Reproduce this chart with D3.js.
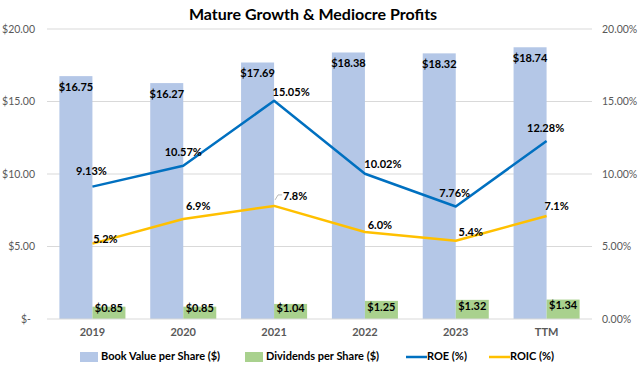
<!DOCTYPE html>
<html><head><meta charset="utf-8">
<script src="https://cdn.jsdelivr.net/npm/d3@7"></script>
<style>
html,body{margin:0;padding:0;background:#fff;}
svg{display:block;font-family:Lato,"Open Sans",sans-serif;}
</style></head>
<body><svg id="chart" width="640" height="366"></svg>
<script>
const categories = ["2019","2020","2021","2022","2023","TTM"];
const bookValue = [16.75,16.27,17.69,18.38,18.32,18.74];
const dividends = [0.85,0.85,1.04,1.25,1.32,1.34];
const roe = [9.13,10.57,15.05,10.02,7.76,12.28];
const roic = [5.2,6.9,7.8,6.0,5.4,7.1];
const leftTicks = [0,5,10,15,20];
const rightTicks = [0,5,10,15,20];
const seriesNames = ["Book Value per Share ($)","Dividends per Share ($)","ROE (%)","ROIC (%)"];

// label placement (style, not data)
const roeLabelOffsets = [[-1,-14],[0,-13],[17,-8],[18,-9],[-1,-12],[-1,-12]];
const roicLabelOffsets = [[13,-3],[15,-12],[21,-9],[15,-6],[15,-8],[10,-9]];

const C = {blue:"#b4c7e7", green:"#a9d18e", roe:"#0070c0", roic:"#ffc000", grid:"#d9d9d9", axisText:"#595959"};

const svg = d3.select("#chart");
const pLeft = 47, pRight = 592, pTop = 29, pBottom = 319;

const x = d3.scaleBand().domain(categories).range([pLeft,pRight]).paddingInner(0.273).paddingOuter(0.1365);
const xs = d3.scaleBand().domain(["bv","div"]).range([0,x.bandwidth()]);
const yL = d3.scaleLinear().domain([0,20]).range([pBottom,pTop]);
const yR = d3.scaleLinear().domain([0,20]).range([pBottom,pTop]);

// title
svg.append("text").attr("x",313).attr("y",16).attr("text-anchor","middle")
  .attr("dominant-baseline","middle").attr("font-weight","bold").attr("font-size",16)
  .attr("fill","#000").text("Mature Growth & Mediocre Profits");

// gridlines
svg.append("g").selectAll("line").data(leftTicks.filter(d=>d>0)).join("line")
  .attr("x1",pLeft).attr("x2",pRight).attr("y1",d=>yL(d)).attr("y2",d=>yL(d))
  .attr("stroke",C.grid).attr("stroke-width",1);

// left axis
const axL = d3.axisLeft(yL).tickValues(leftTicks).tickSize(0).tickPadding(12)
  .tickFormat(d=> d===0 ? "$-" : "$"+d3.format(".2f")(d));
const gL = svg.append("g").attr("transform",`translate(${pLeft},0)`).call(axL);
gL.select(".domain").remove();
gL.selectAll("text").attr("font-size",10.5).attr("fill",C.axisText).attr("font-family","Lato,sans-serif")
  .attr("dx",d=>d===0?-4:0);

// right axis
const axR = d3.axisRight(yR).tickValues(rightTicks).tickSize(0).tickPadding(10)
  .tickFormat(d=>d3.format(".2f")(d)+"%");
const gR = svg.append("g").attr("transform",`translate(${pRight},0)`).call(axR);
gR.select(".domain").remove();
gR.selectAll("text").attr("font-size",10.5).attr("fill",C.axisText).attr("font-family","Lato,sans-serif");

// bars
const groups = svg.append("g").selectAll("g").data(categories).join("g")
  .attr("transform",d=>`translate(${x(d)},0)`);
groups.append("rect").attr("x",xs("bv")).attr("width",xs.bandwidth())
  .attr("y",(d,i)=>yL(bookValue[i])).attr("height",(d,i)=>yL(0)-yL(bookValue[i])).attr("fill",C.blue);
groups.append("rect").attr("x",xs("div")).attr("width",xs.bandwidth())
  .attr("y",(d,i)=>yL(dividends[i])).attr("height",(d,i)=>yL(0)-yL(dividends[i])).attr("fill",C.green);

// baseline axis
svg.append("line").attr("x1",pLeft).attr("x2",pRight).attr("y1",yL(0)).attr("y2",yL(0))
  .attr("stroke",C.grid).attr("stroke-width",1);

// x axis labels
const axX = d3.axisBottom(x).tickSize(0).tickPadding(9);
const gX = svg.append("g").attr("transform",`translate(0,${pBottom})`).call(axX);
gX.select(".domain").remove();
gX.selectAll("text").attr("font-size",11).attr("fill",C.axisText).attr("font-weight","bold").attr("font-family","Lato,sans-serif");

// bar labels
groups.append("text").attr("x",xs("bv")+xs.bandwidth()/2).attr("y",(d,i)=>yL(bookValue[i])+12)
  .attr("text-anchor","middle").attr("dominant-baseline","middle").attr("font-weight","bold")
  .attr("font-size",11).attr("fill","#000").text((d,i)=>"$"+d3.format(".2f")(bookValue[i]));
groups.append("text").attr("x",xs("div")+xs.bandwidth()/2).attr("y",(d,i)=>Math.min(yL(dividends[i])+7,309.5))
  .attr("text-anchor","middle").attr("dominant-baseline","middle").attr("font-weight","bold")
  .attr("font-size",11).attr("fill","#000").text((d,i)=>"$"+d3.format(".2f")(dividends[i]));

// lines
const cx = d=>x(d)+x.bandwidth()/2;
const lineGen = d3.line().x((d,i)=>cx(categories[i])).y(d=>yR(d));
svg.append("path").datum(roe).attr("d",lineGen).attr("fill","none").attr("stroke",C.roe)
  .attr("stroke-width",2.5).attr("stroke-linejoin","round");
svg.append("path").datum(roic).attr("d",lineGen).attr("fill","none").attr("stroke",C.roic)
  .attr("stroke-width",2.5).attr("stroke-linejoin","round");

// leader line for 7.8%
{
  const px = cx(categories[2]), py = yR(roic[2]);
  svg.append("path").attr("d",`M${px+1},${py-6} L${px+4},${py-11} L${px+8},${py-11}`)
    .attr("fill","none").attr("stroke","#a6a6a6").attr("stroke-width",0.8);
}

// line labels
svg.append("g").selectAll("text").data(roe).join("text")
  .attr("x",(d,i)=>cx(categories[i])+roeLabelOffsets[i][0])
  .attr("y",(d,i)=>yR(d)+roeLabelOffsets[i][1])
  .attr("text-anchor","middle").attr("dominant-baseline","middle").attr("font-weight","bold")
  .attr("font-size",11).attr("fill","#000").text(d=>d3.format(".2f")(d)+"%");
svg.append("g").selectAll("text").data(roic).join("text")
  .attr("x",(d,i)=>cx(categories[i])+roicLabelOffsets[i][0])
  .attr("y",(d,i)=>yR(d)+roicLabelOffsets[i][1])
  .attr("text-anchor","middle").attr("dominant-baseline","middle").attr("font-weight","bold")
  .attr("font-size",11).attr("fill","#000").text(d=>d3.format(".1f")(d)+"%");

// legend
const legend = svg.append("g").attr("transform","translate(0,357)");
const legendItems = [
  {name:seriesNames[0], type:"rect", color:C.blue, x:80},
  {name:seriesNames[1], type:"rect", color:C.green, x:245},
  {name:seriesNames[2], type:"line", color:C.roe, x:406},
  {name:seriesNames[3], type:"line", color:C.roic, x:489}
];
legendItems.forEach(it=>{
  if(it.type==="rect"){
    legend.append("rect").attr("x",it.x).attr("y",-5).attr("width",18).attr("height",10).attr("fill",it.color);
  } else {
    legend.append("line").attr("x1",it.x).attr("x2",it.x+21).attr("y1",0).attr("y2",0)
      .attr("stroke",it.color).attr("stroke-width",2.5);
  }
  legend.append("text").attr("x",it.x+21).attr("y",0)
    .attr("dominant-baseline","middle").attr("font-weight","bold").attr("font-size",11)
    .attr("fill","#000").text(it.name);
});
</script>
</body></html>
